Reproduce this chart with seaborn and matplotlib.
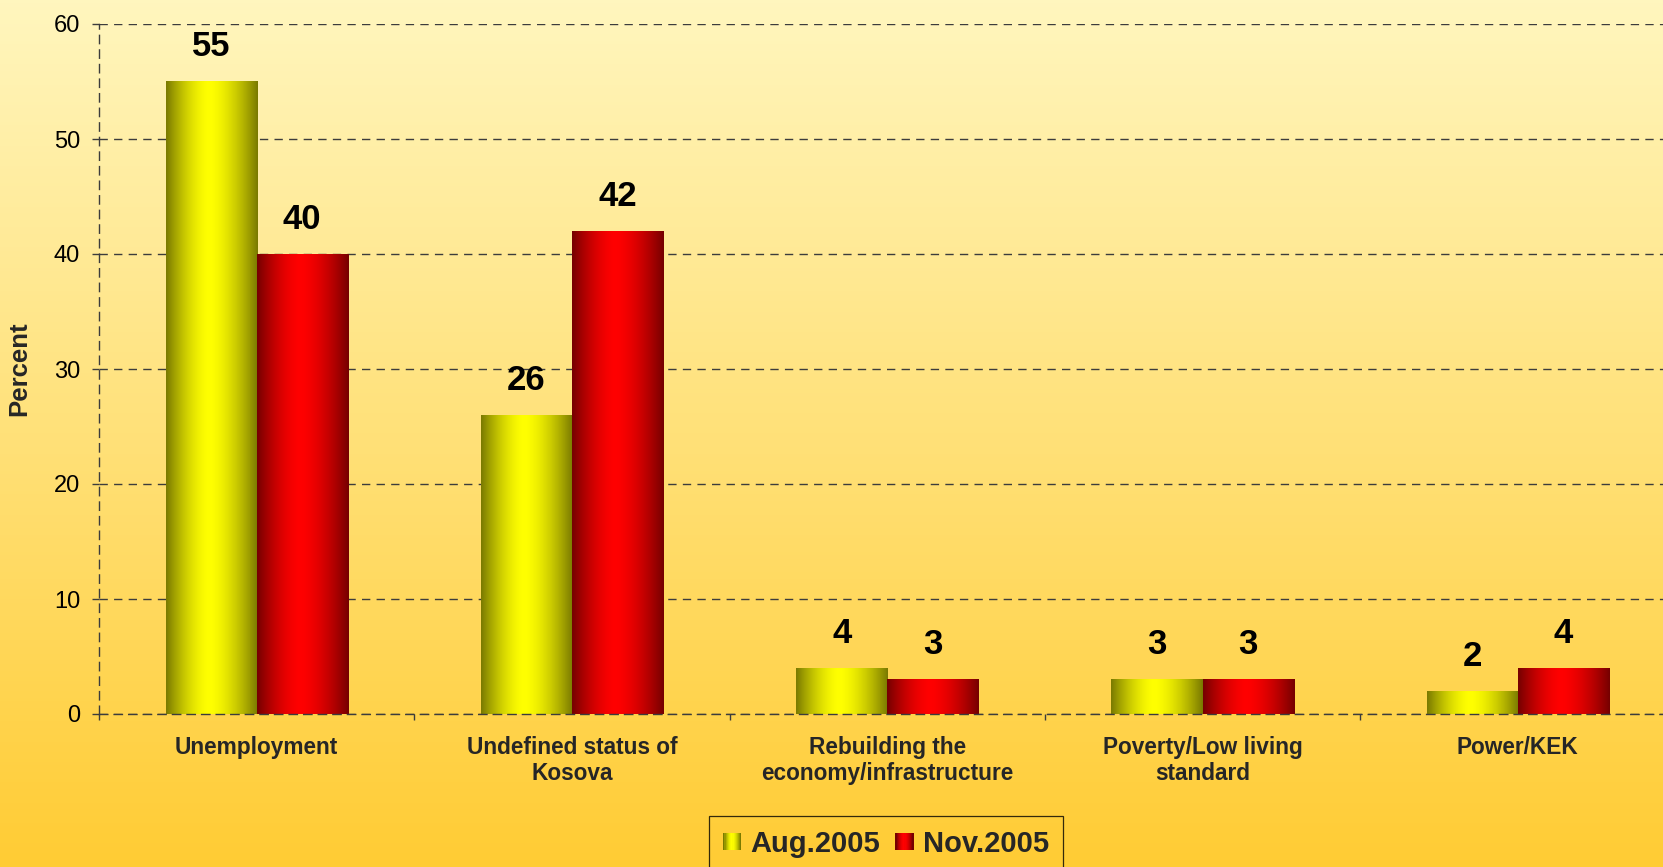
import numpy as np
import pandas as pd
import matplotlib
matplotlib.use("Agg")
import matplotlib.pyplot as plt
import seaborn as sns
from matplotlib.patches import Rectangle
from matplotlib.legend_handler import HandlerBase
from matplotlib.ticker import FixedLocator

# ---------------- data ----------------
categories = [
    "Unemployment",
    "Undefined status of\nKosova",
    "Rebuilding the\neconomy/infrastructure",
    "Poverty/Low living\nstandard",
    "Power/KEK",
]
series_names = ["Aug.2005", "Nov.2005"]
aug_values = [55, 26, 4, 3, 2]
nov_values = [40, 42, 3, 3, 4]
y_ticks = [0, 10, 20, 30, 40, 50, 60]
y_label = "Percent"

# ---------------- style ----------------
sns.set_theme(style="white")
plt.rcParams["font.family"] = ["Liberation Sans", "DejaVu Sans"]

YELLOW_DARK, YELLOW_BRIGHT = np.array([122, 122, 0]) / 255, np.array([255, 255, 0]) / 255
RED_DARK, RED_BRIGHT = np.array([118, 0, 0]) / 255, np.array([255, 0, 0]) / 255
GRID_COLOR = "#3c3c3c"


def hgradient(dark, bright, n=128, peak=0.47):
    t = np.linspace(0, 1, n)
    d = np.where(t < peak, (peak - t) / peak, (t - peak) / (1 - peak))
    f = 1 - d ** 1.6
    return dark[None, :] + (bright - dark)[None, :] * f[:, None]


class GradHandler(HandlerBase):
    def __init__(self, dark, bright):
        super().__init__()
        self.cols = hgradient(dark, bright, n=16)

    def create_artists(self, legend, orig_handle, xdescent, ydescent,
                       width, height, fontsize, trans):
        n = len(self.cols)
        arts = []
        for i, c in enumerate(self.cols):
            r = Rectangle((-xdescent + width * i / n, -ydescent), width / n * 1.05, height,
                          facecolor=c, edgecolor="none", transform=trans)
            arts.append(r)
        return arts


W, H = 1663, 867
fig = plt.figure(figsize=(W / 100, H / 100), dpi=100)

# background vertical gradient
bg = fig.add_axes([0, 0, 1, 1])
bg.set_zorder(-10)
top_c = np.array([255, 246, 190]) / 255
bot_c = np.array([255, 204, 52]) / 255
tt = np.linspace(0, 1, 256)[:, None]
bg_img = (top_c[None, :] * (1 - tt) + bot_c[None, :] * tt)[:, None, :]
bg.imshow(bg_img, aspect="auto", extent=[0, 1, 0, 1])
bg.axis("off")

# main axes
ax = fig.add_axes([99 / W, (H - 714) / H, (1675.5 - 99) / W, (714 - 24) / H])
ax.set_facecolor("none")

df = pd.DataFrame({
    "category": categories * 2,
    "period": [series_names[0]] * len(categories) + [series_names[1]] * len(categories),
    "value": aug_values + nov_values,
})

sns.barplot(data=df, x="category", y="value", hue="period", order=categories,
            hue_order=series_names, palette=["#FFFF00", "#FF0000"], width=0.578,
            gap=0, legend=False, ax=ax, errorbar=None, saturation=1,
            edgecolor="none", linewidth=0)

# gradient fill for the bars + value labels
bars = [p for p in ax.patches if isinstance(p, Rectangle)]
for p in bars:
    x, y, w, h = p.get_x(), p.get_y(), p.get_width(), p.get_height()
    fc = p.get_facecolor()
    if fc[1] > 0.5:
        grad = hgradient(YELLOW_DARK, YELLOW_BRIGHT)
    else:
        grad = hgradient(RED_DARK, RED_BRIGHT)
    ax.imshow(grad[None, :, :], extent=[x, x + w, y, y + h], aspect="auto",
              zorder=2, interpolation="bilinear")
    p.set_alpha(0)
    ax.annotate(f"{h:g}", (x + w / 2, y + h), xytext=(0, 18),
                textcoords="offset points", ha="center", va="baseline",
                fontsize=25, fontweight="bold", color="black")

ax.set_xlim(-0.5, len(categories) - 0.5)
ax.set_ylim(y_ticks[0], y_ticks[-1])
ax.set_yticks(y_ticks)
ax.set_yticklabels([str(v) for v in y_ticks])

# grid & spines
dash = (0, (6, 4.5))
ax.yaxis.grid(True, linestyle=dash, color=GRID_COLOR, linewidth=1.0)
ax.xaxis.grid(False)
ax.set_axisbelow(True)
for s in ["top", "right"]:
    ax.spines[s].set_visible(False)
for s in ["left", "bottom"]:
    ax.spines[s].set_linestyle(dash)
    ax.spines[s].set_color(GRID_COLOR)
    ax.spines[s].set_linewidth(1.0)
    ax.spines[s].set_zorder(3)

ax.tick_params(axis="y", which="major", left=True, length=5, width=1,
               color=GRID_COLOR, pad=8.5, labelsize=17, labelcolor="black")
ax.xaxis.set_minor_locator(FixedLocator(np.arange(-0.5, len(categories), 1.0)))
ax.tick_params(axis="x", which="major", bottom=True, length=0, pad=15.5, labelsize=16.3)
ax.tick_params(axis="x", which="minor", bottom=True, length=4.5, width=1, color=GRID_COLOR)
ax.set_xticks(range(len(categories)))
ax.set_xticklabels(categories, fontweight="bold", linespacing=1.22)
ax.set_xlabel("")
ax.set_ylabel(y_label, fontsize=18.5, fontweight="bold")
ax.yaxis.set_label_coords((31 - 99) / (1675.5 - 99), 0.5)

# legend
h1 = Rectangle((0, 0), 1, 1, facecolor="#FFFF00")
h2 = Rectangle((0, 0), 1, 1, facecolor="#FF0000")
leg = fig.legend(handles=[h1, h2], labels=series_names,
                 handler_map={h1: GradHandler(YELLOW_DARK, YELLOW_BRIGHT),
                              h2: GradHandler(RED_DARK, RED_BRIGHT)},
                 loc="upper center", bbox_to_anchor=(886 / W, (H - 816) / H),
                 ncol=2, frameon=True, fancybox=False, edgecolor="black",
                 facecolor="none", prop={"size": 21, "weight": "bold"},
                 handlelength=0.62, handleheight=0.55, handletextpad=0.31,
                 columnspacing=0.52, borderpad=0.48, borderaxespad=0)
leg.get_frame().set_linewidth(0.9)

fig.savefig("out.png", dpi=100)
